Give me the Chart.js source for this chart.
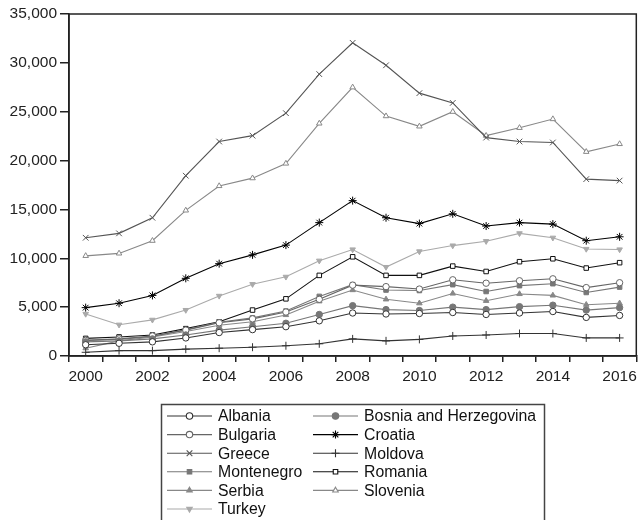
<!DOCTYPE html>
<html>
<head>
<meta charset="utf-8">
<script src="https://cdn.jsdelivr.net/npm/chart.js@4.4.1/dist/chart.umd.min.js"></script>
<style>
  body { margin: 0; background: #fff; }
  #wrap { width: 642px; height: 520px; }
</style>
</head>
<body>
<div id="wrap"><canvas id="myChart" width="642" height="520"></canvas></div>
<script>
var years = ["2000", "2001", "2002", "2003", "2004", "2005", "2006", "2007", "2008",
  "2009", "2010", "2011", "2012", "2013", "2014", "2015", "2016"];
var yTicks = [0, 5000, 10000, 15000, 20000, 25000, 30000, 35000];

var albania = [1150, 1300, 1450, 1850, 2400, 2700, 3000, 3600, 4400, 4300, 4350, 4450, 4250, 4400, 4550, 3950, 4150];
var bosnia = [1450, 1550, 1750, 2150, 2650, 3000, 3350, 4250, 5150, 4750, 4650, 5000, 4750, 5050, 5200, 4700, 4950];
var bulgaria = [1600, 1750, 2050, 2650, 3400, 3800, 4500, 5800, 7250, 7100, 6850, 7800, 7450, 7700, 7900, 7000, 7500];
var croatia = [4950, 5400, 6200, 7950, 9450, 10350, 11350, 13650, 15900, 14150, 13550, 14550, 13300, 13650, 13500, 11800, 12200];
var greece = [12100, 12550, 14150, 18450, 21950, 22550, 24850, 28850, 32050, 29750, 26900, 25900, 22350, 21950, 21850, 18100, 17950];
var moldova = [380, 550, 550, 700, 800, 900, 1050, 1250, 1750, 1550, 1700, 2050, 2150, 2300, 2300, 1850, 1850];
var montenegro = [1600, 1700, 2000, 2700, 3450, 3900, 4600, 6100, 7300, 6750, 6700, 7300, 6600, 7200, 7400, 6500, 7050];
var romania = [1800, 1950, 2150, 2800, 3500, 4700, 5850, 8250, 10150, 8250, 8250, 9200, 8650, 9650, 9950, 9000, 9550];
var serbia = [800, 1550, 1950, 2500, 3150, 3500, 4200, 5600, 6750, 5800, 5400, 6400, 5650, 6350, 6200, 5250, 5400];
var slovenia = [10250, 10500, 11800, 14900, 17400, 18200, 19700, 23800, 27500, 24550, 23500, 25000, 22550, 23350, 24250, 20900, 21700];
var turkey = [4300, 3200, 3700, 4700, 6150, 7350, 8100, 9750, 10900, 9100, 10700, 11300, 11750, 12550, 12100, 10950, 10900];

var fontFamily = "'Liberation Sans', Arial, sans-serif";

// name, values, line colour, marker, filled?, rotation
function series(label, data, color, style, filled, rot) {
  return {
    label: label,
    data: data,
    borderColor: color,
    backgroundColor: filled ? color : "#fff",
    borderWidth: 1.1,
    pointStyle: style,
    pointRotation: rot || 0,
    pointRadius: style == "star" || style == "crossRot" || style == "cross" ? 4 : 3.2,
    pointBorderWidth: 1,
    pointBorderColor: color,
    pointBackgroundColor: filled ? color : "#fff",
    tension: 0
  };
}

var datasets = [
  series("Albania", albania, "#333", "circle", false),
  series("Bosnia and Herzegovina", bosnia, "#777", "circle", true),
  series("Bulgaria", bulgaria, "#666", "circle", false),
  series("Croatia", croatia, "#000", "star", false),
  series("Greece", greece, "#555", "crossRot", false),
  series("Moldova", moldova, "#333", "cross", false),
  series("Montenegro", montenegro, "#777", "rect", true),
  series("Romania", romania, "#111", "rect", false),
  series("Serbia", serbia, "#888", "triangle", true),
  series("Slovenia", slovenia, "#888", "triangle", false),
  series("Turkey", turkey, "#aaa", "triangle", true, 180)
];

// frame round the plot
var framePlugin = {
  id: "frame",
  afterDraw: function(chart) {
    var a = chart.chartArea, ctx = chart.ctx;
    ctx.save();
    ctx.strokeStyle = "#222";
    ctx.lineWidth = 1.5;
    ctx.strokeRect(a.left, a.top, a.right - a.left, a.bottom - a.top);
    ctx.restore();
  }
};

// two column boxed legend under the chart
var legendPlugin = {
  id: "boxLegend",
  afterDraw: function(chart) {
    var ctx = chart.ctx;
    var sets = chart.data.datasets;
    ctx.save();
    ctx.strokeStyle = "#444";
    ctx.lineWidth = 1.5;
    ctx.strokeRect(161.5, 404.5, 383, 130);
    ctx.font = "15.8px " + fontFamily;
    ctx.textBaseline = "middle";
    for (var i = 0; i < sets.length; i++) {
      var d = sets[i];
      var col = i % 2, row = Math.floor(i / 2);
      var x0 = col == 0 ? 167 : 313;
      var y = 416 + row * 18.6;
      ctx.strokeStyle = d.borderColor;
      ctx.lineWidth = 1.1;
      ctx.beginPath();
      ctx.moveTo(x0, y);
      ctx.lineTo(x0 + 45, y);
      ctx.stroke();
      ctx.fillStyle = d.pointBackgroundColor;
      ctx.strokeStyle = d.borderColor;
      Chart.helpers.drawPoint(ctx, {
        pointStyle: d.pointStyle,
        rotation: d.pointRotation,
        radius: d.pointRadius,
        borderWidth: 1
      }, x0 + 22.5, y);
      ctx.fillStyle = "#111";
      ctx.fillText(d.label, x0 + 51, y + 1);
    }
    ctx.restore();
  }
};

function chart() {
  new Chart("myChart", {
    type: "line",
    data: {
      labels: years,
      datasets: datasets
    },
    plugins: [framePlugin, legendPlugin],
    options: {
      responsive: false,
      animation: false,
      layout: { padding: { left: 0, right: 2, top: 14, bottom: 134 } },
      plugins: {
        legend: { display: false },
        tooltip: { enabled: false }
      },
      scales: {
        x: {
          type: "category",
          offset: true,
          grid: { display: true, offset: true, drawOnChartArea: false, tickLength: 6, color: "#222", lineWidth: 1.5 },
          border: { display: true, color: "#222", width: 1.5 },
          ticks: {
            autoSkip: false,
            maxRotation: 0,
            padding: 5,
            color: "#222",
            font: { family: fontFamily, size: 15.5 },
            callback: function(v, i) {
              var y = years[i];
              return (parseInt(y) % 2 == 0) ? y : "";
            }
          },
          afterFit: function(s) { s.height = 30; }
        },
        y: {
          min: 0,
          max: 35000,
          afterBuildTicks: function(s) {
            s.ticks = yTicks.map(function(v) { return { value: v }; });
          },
          grid: { display: true, drawOnChartArea: false, tickLength: 9, color: "#222", lineWidth: 1.5 },
          border: { display: true, color: "#222", width: 1.5 },
          ticks: {
            padding: 3,
            color: "#222",
            font: { family: fontFamily, size: 15.5 },
            callback: function(v) { return v.toLocaleString("en-US"); }
          },
          afterFit: function(s) { s.width = 69; }
        }
      }
    }
  });
}

chart();
</script>
</body>
</html>
